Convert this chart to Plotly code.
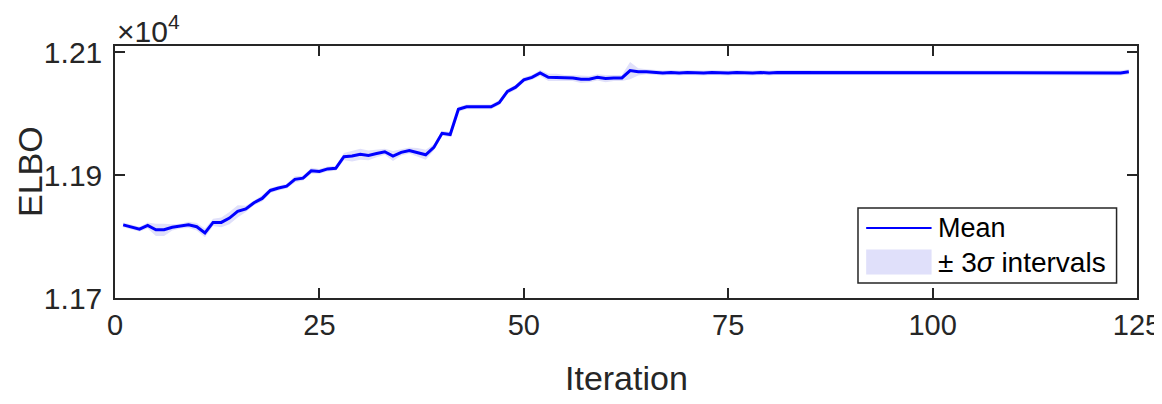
import plotly.graph_objects as go

iterations = list(range(1, 125))
elbo_mean = [
    11819, 11816, 11812, 11818, 11811, 11811, 11815, 11817, 11819, 11816,
    11806, 11823, 11823, 11830, 11841, 11845, 11855, 11862, 11875, 11879,
    11882, 11893, 11895, 11907, 11906, 11910, 11911, 11930, 11931, 11934,
    11932, 11935, 11938, 11931, 11937, 11940, 11937, 11933, 11945, 11968,
    11966, 12007, 12011, 12011, 12010, 12011, 12018, 12036, 12043, 12055,
    12059, 12066, 12059, 12059, 12058, 12058, 12056, 12056, 12059, 12057,
    12058, 12058, 12070, 12068, 12068, 12067, 12066, 12067, 12066, 12067,
    12066, 12066, 12067, 12066, 12066, 12067, 12066, 12066, 12067, 12066,
    12067, 12067, 12066, 12067, 12066, 12066, 12067, 12067, 12066, 12067,
    12067, 12066, 12066, 12067, 12067, 12066, 12066, 12067, 12067, 12066,
    12066, 12067, 12066, 12067, 12067, 12066, 12066, 12067, 12067, 12066,
    12066, 12067, 12067, 12066, 12067, 12067, 12067, 12066, 12066, 12067,
    12067, 12066, 12066, 12068,
]
elbo_3sigma = [
    4, 4, 4, 5, 10, 10, 5, 4, 5, 6,
    7, 6, 8, 10, 10, 5, 4, 5, 4, 4,
    4, 5, 4, 5, 4, 4, 4, 6, 9, 9,
    8, 6, 5, 8, 5, 5, 7, 8, 5, 4,
    4, 4, 4, 4, 4, 4, 4, 4, 4, 4,
    4, 5, 6, 6, 5, 5, 6, 5, 5, 6,
    5, 5, 14, 6, 4, 4, 4, 4, 4, 4,
    4, 4, 4, 4, 4, 4, 4, 4, 4, 4,
    4, 4, 4, 4, 4, 4, 4, 4, 4, 4,
    4, 4, 4, 4, 4, 4, 4, 4, 4, 4,
    4, 4, 4, 4, 4, 4, 4, 4, 4, 4,
    4, 4, 4, 4, 4, 4, 4, 4, 4, 4,
    4, 4, 4, 4,
]
x_ticks = [0, 25, 50, 75, 100, 125]
y_ticks = [11700, 11900, 12100]
y_tick_labels = ["1.17", "1.19", "1.21"]
legend_labels = ["Mean", "\u00b1 3<i>\u03c3</i> intervals"]
x_title = "Iteration"
y_title = "ELBO"

upper = [m + s for m, s in zip(elbo_mean, elbo_3sigma)]
lower = [m - s for m, s in zip(elbo_mean, elbo_3sigma)]

AX = "#262626"
FONT = "Liberation Sans, Arial, Helvetica, sans-serif"
BAND = "rgb(224,224,250)"
BLUE = "#0000FF"

fig = go.Figure()
fig.add_trace(go.Scatter(x=iterations, y=upper, mode="lines", line=dict(width=0),
                         showlegend=False, hoverinfo="skip"))
fig.add_trace(go.Scatter(x=iterations, y=lower, mode="lines", line=dict(width=0),
                         fill="tonexty", fillcolor=BAND, showlegend=False,
                         name=legend_labels[1]))
fig.add_trace(go.Scatter(x=iterations, y=elbo_mean, mode="lines",
                         line=dict(color=BLUE, width=3),
                         showlegend=False, name=legend_labels[0]))

# legend drawn in paper coordinates (MATLAB-style box)
shapes = [
    dict(type="rect", xref="paper", yref="paper", x0=0.727, x1=0.980, y0=0.06, y1=0.357,
         line=dict(color=AX, width=1.5), fillcolor="white", layer="above"),
    dict(type="line", xref="paper", yref="paper", x0=0.735, x1=0.799, y0=0.278, y1=0.278,
         line=dict(color=BLUE, width=2), layer="above"),
    dict(type="rect", xref="paper", yref="paper", x0=0.735, x1=0.799, y0=0.093, y1=0.192,
         line=dict(width=0), fillcolor=BAND, layer="above"),
]
annotations = [
    dict(text=legend_labels[0], xref="paper", yref="paper", x=0.803, y=0.278,
         xanchor="left", yanchor="middle", showarrow=False,
         font=dict(size=27, color="black")),
    dict(text=legend_labels[1], xref="paper", yref="paper", x=0.803, y=0.140,
         xanchor="left", yanchor="middle", showarrow=False,
         font=dict(size=28, color="black")),
    dict(text="\u00d710<sup>4</sup>", xref="paper", yref="paper",
         x=0.0, y=1.0, xanchor="left", yanchor="bottom", yshift=-4, xshift=0,
         showarrow=False, font=dict(size=30, color=AX)),
    dict(text=y_title, xref="paper", yref="paper", x=0.0, y=0.5, xshift=-85,
         xanchor="center", yanchor="middle", textangle=-90, showarrow=False,
         borderpad=0, font=dict(size=34, color=AX)),
    dict(text=x_title, xref="paper", yref="paper", x=0.5, y=0.0, yshift=-80,
         xanchor="center", yanchor="middle", showarrow=False,
         font=dict(size=34, color=AX)),
]

fig.update_layout(
    width=1154, height=388,
    margin=dict(l=107, r=25, t=38, b=98),
    paper_bgcolor="white", plot_bgcolor="white",
    font=dict(family=FONT, size=30, color=AX),
    showlegend=False,
    shapes=shapes,
    annotations=annotations,
    xaxis=dict(range=[0, 125], tickvals=x_ticks, ticks="inside", ticklen=10,
               tickwidth=1.5, tickcolor=AX, showline=True, linecolor=AX,
               linewidth=1.5, mirror="ticks", showgrid=False, zeroline=False,
               automargin=False, ticklabeloverflow="allow",
               tickfont=dict(size=29, color=AX)),
    yaxis=dict(range=[11700, 12110], tickvals=y_ticks, ticktext=y_tick_labels,
               ticks="inside", ticklen=10, tickwidth=1.5, tickcolor=AX,
               showline=True, linecolor=AX, linewidth=1.5, mirror="ticks",
               showgrid=False, zeroline=False, automargin=False,
               ticklabeloverflow="allow",
               ticklabelstandoff=5, tickfont=dict(size=30, color=AX)),
)

fig.write_html("out.html")
